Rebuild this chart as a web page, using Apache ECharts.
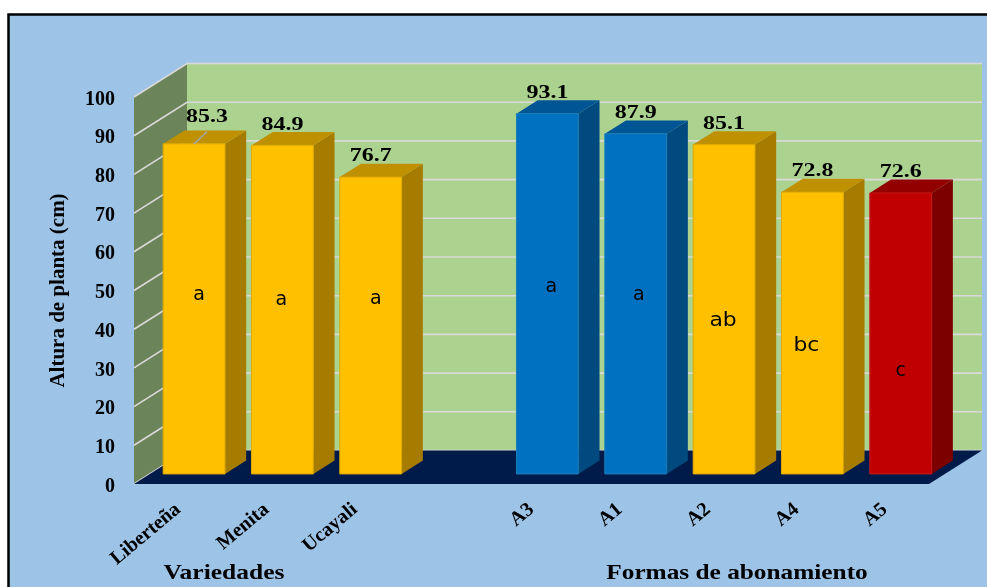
<!DOCTYPE html>
<html><head><meta charset="utf-8">
<style>html,body{margin:0;padding:0;background:#fff}#c{width:987px;height:587px}</style>
<script src="https://cdn.jsdelivr.net/npm/echarts@6/dist/echarts.min.js"></script>
</head><body><div id="c"></div>
<script>
const categories = ['Liberteña','Menita','Ucayali','','A3','A1','A2','A4','A5'];
const values = [85.3,84.9,76.7,null,93.1,87.9,85.1,72.8,72.6];
const letters = ['a','a','a','','a','a','ab','bc','c'];
const colorGroups = ['gold','gold','gold','','blue','blue','gold','gold','red'];
const ticks = [0,10,20,30,40,50,60,70,80,90,100];

// appearance and oblique projection settings
const palette = {
  gold:{front:'#ffc000',top:'#bf9000',side:'#a67c00',edge:'#e0aa00'},
  blue:{front:'#0070c0',top:'#005594',side:'#004a7f',edge:'#1a7fb8'},
  red:{front:'#c00000',top:'#930000',side:'#7d0000',edge:'#c41a1a'}
};
const DEPTH=[53,-33.5], NEAR=0.3, FAR=0.7, BAR_RATIO=0.7;
const letterOffset=[[5,-14],[-1,-10],[5,-26],[0,0],[4,-7],[3,-9],[-1,12],[-6,13],[0,38]];
const movedLabel={0:[13,-6]};
const SERIF='"Liberation Serif","Times New Roman",serif';

function wall(params,api){
  const g=params.coordSys, x0=g.x, x1=g.x+g.width, yT=g.y, yB=g.y+g.height, dx=DEPTH[0], dy=DEPTH[1];
  return {type:'group',children:[
    {type:'polygon',shape:{points:[[x0+dx,yT+dy],[x1+dx,yT+dy],[x1+dx,yB+dy],[x0+dx,yB+dy]]},style:{fill:'#abd28f'}},
    {type:'polygon',shape:{points:[[x0,yT],[x0+dx,yT+dy],[x0+dx,yB+dy],[x0,yB]]},style:{fill:'#6c8459'}}
  ]};
}
function gridLines(params,api){
  const g=params.coordSys, x0=g.x, x1=g.x+g.width, dx=DEPTH[0], dy=DEPTH[1];
  const y=api.coord([0,api.value(0)])[1];
  return {type:'polyline',shape:{points:[[x0,y],[x0+dx,y+dy],[x1+dx,y+dy]]},style:{fill:null,stroke:'#d9d9d9',lineWidth:1.6}};
}
function floor(params,api){
  const g=params.coordSys, x0=g.x, x1=g.x+g.width, yB=g.y+g.height, dx=DEPTH[0], dy=DEPTH[1];
  return {type:'polygon',shape:{points:[[x0,yB],[x0+dx,yB+dy],[x1+dx,yB+dy],[x1,yB]]},style:{fill:'#001a4a'}};
}
function bar(params,api){
  const i=api.value(0), v=api.value(1), c=palette[colorGroups[i]];
  const band=api.size([1,0])[0], w=band*BAR_RATIO;
  const nx=DEPTH[0]*NEAR, ny=DEPTH[1]*NEAR, fx=DEPTH[0]*(FAR-NEAR), fy=DEPTH[1]*(FAR-NEAR);
  const top=api.coord([i,v]), base=api.coord([i,0]);
  const L=top[0]+nx-w/2, R=L+w, T=top[1]+ny, B=base[1]+ny, cx=top[0]+nx;
  const mv=movedLabel[i]||[0,0];
  const kids=[
    {type:'text',x:cx+mv[0],y:T+fy-7+mv[1],scaleX:1.33,style:{x:0,y:0,text:v.toFixed(1),font:'bold 18px '+SERIF,fill:'#000',align:'center',verticalAlign:'middle'}},
    {type:'polygon',shape:{points:[[R,T],[R+fx,T+fy],[R+fx,B+fy],[R,B]]},style:{fill:c.side}},
    {type:'polygon',shape:{points:[[L,T],[L+fx,T+fy],[R+fx,T+fy],[R,T]]},style:{fill:c.top}},
    {type:'rect',shape:{x:L,y:T,width:w,height:B-T},style:{fill:c.front,stroke:c.edge,lineWidth:1}}
  ];
  if(movedLabel[i]){
    kids.push({type:'line',shape:{x1:cx,y1:T,x2:cx+mv[0],y2:T+fy+1},style:{stroke:'#a6a6a6',lineWidth:1.5}});
  }
  const lo=letterOffset[i], mid=api.coord([i,v/2]);
  kids.push({type:'text',x:cx+lo[0],y:mid[1]+ny+lo[1],scaleX:letters[i].length>1?1.15:1,style:{x:0,y:0,text:letters[i],font:'19px "DejaVu Sans",sans-serif',fill:'#000',align:'center',verticalAlign:'middle'}});
  return {type:'group',children:kids};
}
const barData=values.map((v,i)=>[i,v]).filter(d=>d[1]!==null);
const chart=echarts.init(document.getElementById('c'),null,{renderer:'canvas'});
const custom=(name,fn,data,z)=>({type:'custom',name,renderItem:fn,data,z,clip:false,silent:true,encode:{x:0,y:1},animation:false});
chart.setOption({
  animation:false,
  backgroundColor:'#fff',
  grid:{left:134,right:58,top:97,bottom:103,containLabel:false},
  tooltip:{show:false},
  xAxis:{type:'category',data:categories,
    axisLine:{show:false},axisTick:{show:false},splitLine:{show:false},
    axisLabel:{interval:0,rotate:40,margin:23,color:'#000',fontFamily:SERIF,fontWeight:'bold',fontSize:20}},
  yAxis:{type:'value',min:0,max:100,interval:10,
    axisLine:{show:false},axisTick:{show:false},splitLine:{show:false},
    axisLabel:{margin:19,verticalAlign:'top',lineHeight:5,color:'#000',fontFamily:SERIF,fontWeight:'bold',fontSize:20},
    name:'Altura de planta (cm)',nameLocation:'middle',nameGap:65,
    nameTextStyle:{color:'#000',fontFamily:SERIF,fontWeight:'bold',fontSize:21}},
  graphic:{elements:[
    {type:'rect',z:-10,shape:{x:8.5,y:14.5,width:1000,height:600},style:{fill:'#9dc3e6',stroke:'#000',lineWidth:2.5}},
    {type:'text',z:50,x:224,y:573,scaleX:1.16,style:{x:0,y:0,text:'Variedades',font:'bold 22px '+SERIF,fill:'#000',align:'center',verticalAlign:'middle'}},
    {type:'text',z:50,x:737,y:573,scaleX:1.15,style:{x:0,y:0,text:'Formas de abonamiento',font:'bold 22px '+SERIF,fill:'#000',align:'center',verticalAlign:'middle'}}
  ]},
  series:[
    custom('wall',wall,[[0,0]],1),
    custom('grid',gridLines,ticks.map(t=>[t]),2),
    custom('floor',floor,[[0,0]],3),
    custom('bars',bar,barData,4)
  ]
});
</script></body></html>
